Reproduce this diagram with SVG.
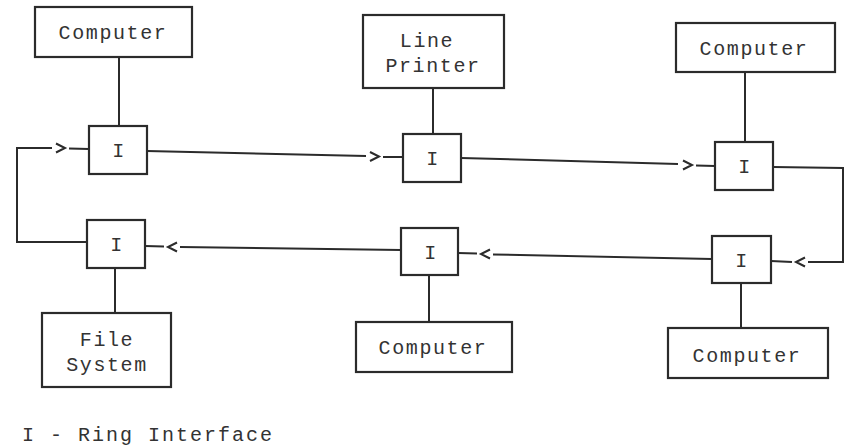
<svg xmlns="http://www.w3.org/2000/svg" width="845" height="448" viewBox="0 0 845 448">
<style>
.box{fill:#fff;stroke:#2b2b2b;stroke-width:2.2}
.ln{fill:none;stroke:#2b2b2b;stroke-width:2;stroke-linejoin:miter}
.t{font-family:"Liberation Mono","DejaVu Sans Mono",monospace;font-size:20px;letter-spacing:1.6px;fill:#333;text-anchor:middle}
.lg{font-family:"Liberation Mono","DejaVu Sans Mono",monospace;font-size:20px;letter-spacing:2px;fill:#333}
</style>
<rect width="845" height="448" fill="#fff"/>
<g id="connectors">
<line class="ln" x1="119" y1="57" x2="119" y2="126"/>
<line class="ln" x1="433" y1="88" x2="433" y2="134"/>
<line class="ln" x1="745" y1="72" x2="745" y2="142"/>
<line class="ln" x1="741" y1="283" x2="741" y2="328"/>
<line class="ln" x1="429" y1="275" x2="429" y2="322"/>
<line class="ln" x1="115" y1="268" x2="115" y2="313"/>
<line class="ln" x1="147" y1="151" x2="366" y2="156"/>
<polyline class="ln" points="370,152 379,156.5 370,161"/>
<line class="ln" x1="383" y1="157" x2="403" y2="157"/>
<line class="ln" x1="461" y1="158" x2="678" y2="164"/>
<polyline class="ln" points="683,160.5 692,165 683,169.5"/>
<line class="ln" x1="696" y1="165.5" x2="715" y2="166"/>
<polyline class="ln" points="773,167 843,168 843,262 808,262"/>
<polyline class="ln" points="805,257.5 796,262 805,266.5"/>
<line class="ln" x1="792" y1="262" x2="771" y2="261"/>
<line class="ln" x1="712" y1="259" x2="493" y2="254.5"/>
<polyline class="ln" points="490,249.5 481,254 490,258.5"/>
<line class="ln" x1="477" y1="253.5" x2="458" y2="253"/>
<line class="ln" x1="401" y1="250" x2="180" y2="247"/>
<polyline class="ln" points="177,242.5 168,247 177,251.5"/>
<line class="ln" x1="164" y1="246.5" x2="145" y2="246"/>
<polyline class="ln" points="87,242 17,242 17,148 52,148"/>
<polyline class="ln" points="56,143.5 65,148 56,152.5"/>
<line class="ln" x1="69" y1="148.5" x2="89" y2="149"/>
</g>
<g id="computer1"><rect class="box" x="35" y="7" width="157" height="50"/><text class="t" x="113" y="39">Computer</text></g>
<g id="printer"><rect class="box" x="363" y="15" width="141" height="73"/><text class="t" x="427" y="47">Line</text><text class="t" x="433" y="72">Printer</text></g>
<g id="computer3"><rect class="box" x="676" y="23" width="159" height="49"/><text class="t" x="754" y="55">Computer</text></g>
<g id="iface1"><rect class="box" x="89" y="126" width="58" height="48"/><text class="t" x="119" y="157">I</text></g>
<g id="iface2"><rect class="box" x="403" y="134" width="58" height="48"/><text class="t" x="433" y="165">I</text></g>
<g id="iface3"><rect class="box" x="715" y="142" width="58" height="48"/><text class="t" x="745" y="173">I</text></g>
<g id="iface4"><rect class="box" x="712" y="236" width="59" height="47"/><text class="t" x="742" y="267">I</text></g>
<g id="iface5"><rect class="box" x="401" y="228" width="57" height="47"/><text class="t" x="431" y="259">I</text></g>
<g id="iface6"><rect class="box" x="87" y="220" width="58" height="48"/><text class="t" x="117" y="251">I</text></g>
<g id="filesystem"><rect class="box" x="42" y="313" width="129" height="74"/><text class="t" x="107" y="346">File</text><text class="t" x="107" y="371">System</text></g>
<g id="computer5"><rect class="box" x="356" y="322" width="156" height="50"/><text class="t" x="433" y="354">Computer</text></g>
<g id="computer6"><rect class="box" x="668" y="328" width="160" height="50"/><text class="t" x="747" y="362">Computer</text></g>
<g id="legend"><text class="lg" x="22" y="441">I - Ring Interface</text></g>
</svg>
